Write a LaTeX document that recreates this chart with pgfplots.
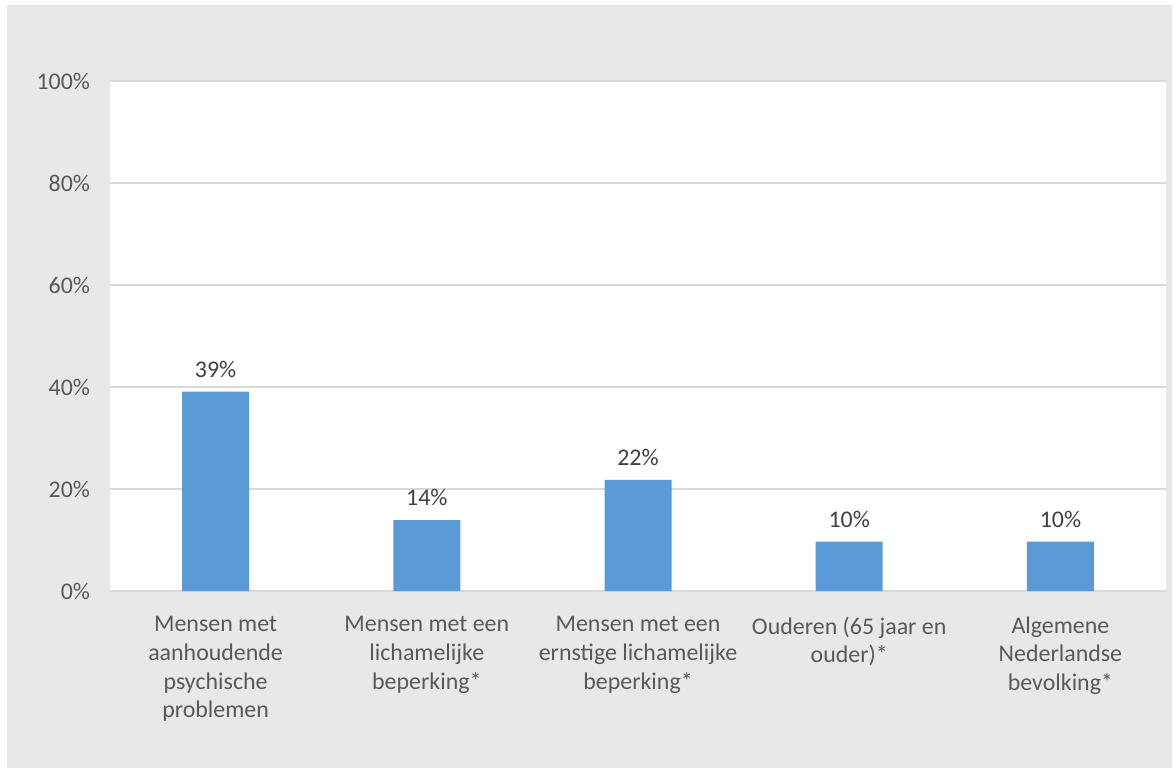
\documentclass[border=0pt]{standalone}
\usepackage{pgfplots}
\pgfplotsset{compat=1.18}
\usepackage{fontspec}
\setmainfont{Carlito}
\definecolor{bg}{RGB}{231,232,234}
\definecolor{barblue}{RGB}{91,155,213}
\definecolor{gridc}{RGB}{217,217,217}
\definecolor{txt}{RGB}{89,89,89}
\definecolor{valc}{RGB}{64,64,64}
\begin{document}
\begin{tikzpicture}[x=1bp,y=1bp]
\useasboundingbox (0,0) rectangle (586.5,384.5);
\fill[bg] (3.5,0.5) rectangle (586,382);
\begin{axis}[
  at={(55bp,89bp)}, anchor=south west,
  scale only axis, width=528bp, height=255bp,
  xmin=-0.5, xmax=4.5, ymin=0, ymax=100,
  /pgf/number format/assume math mode=true,
  axis background/.style={fill=white},
  ytick={0,20,40,60,80,100},
  yticklabel={\pgfmathprintnumber{\tick}\%},
  ymajorgrids, grid style={draw=gridc, line width=0.75bp},
  axis line style={draw=none}, tick style={draw=none},
  ybar, bar width=33.5bp, bar shift=0pt,
  xtick=data,
  xticklabels={{Mensen met\\aanhoudende\\psychische\\problemen},
               {Mensen met een\\lichamelijke\\beperking*},
               {Mensen met een\\ernstige lichamelijke\\beperking*},
               {Ouderen (65 jaar en\\ouder)*},
               {Algemene\\Nederlandse\\bevolking*}},
  xticklabel style={align=center, font=\fontsize{12}{14.4}\selectfont, text=txt, yshift=-5bp},
  yticklabel style={font=\fontsize{12}{14.4}\selectfont, text=txt, xshift=-6.5bp},
  nodes near coords={\pgfmathprintnumber[fixed,precision=0,assume math mode=true]{\pgfplotspointmeta}\%},
  nodes near coords style={font=\fontsize{12}{14.4}\selectfont, text=valc, yshift=3.5bp},
]
\addplot[fill=barblue, draw=none] coordinates {(0,39.1) (1,13.9) (2,21.8) (3,9.7) (4,9.7)};
\end{axis}
\end{tikzpicture}
\end{document}
